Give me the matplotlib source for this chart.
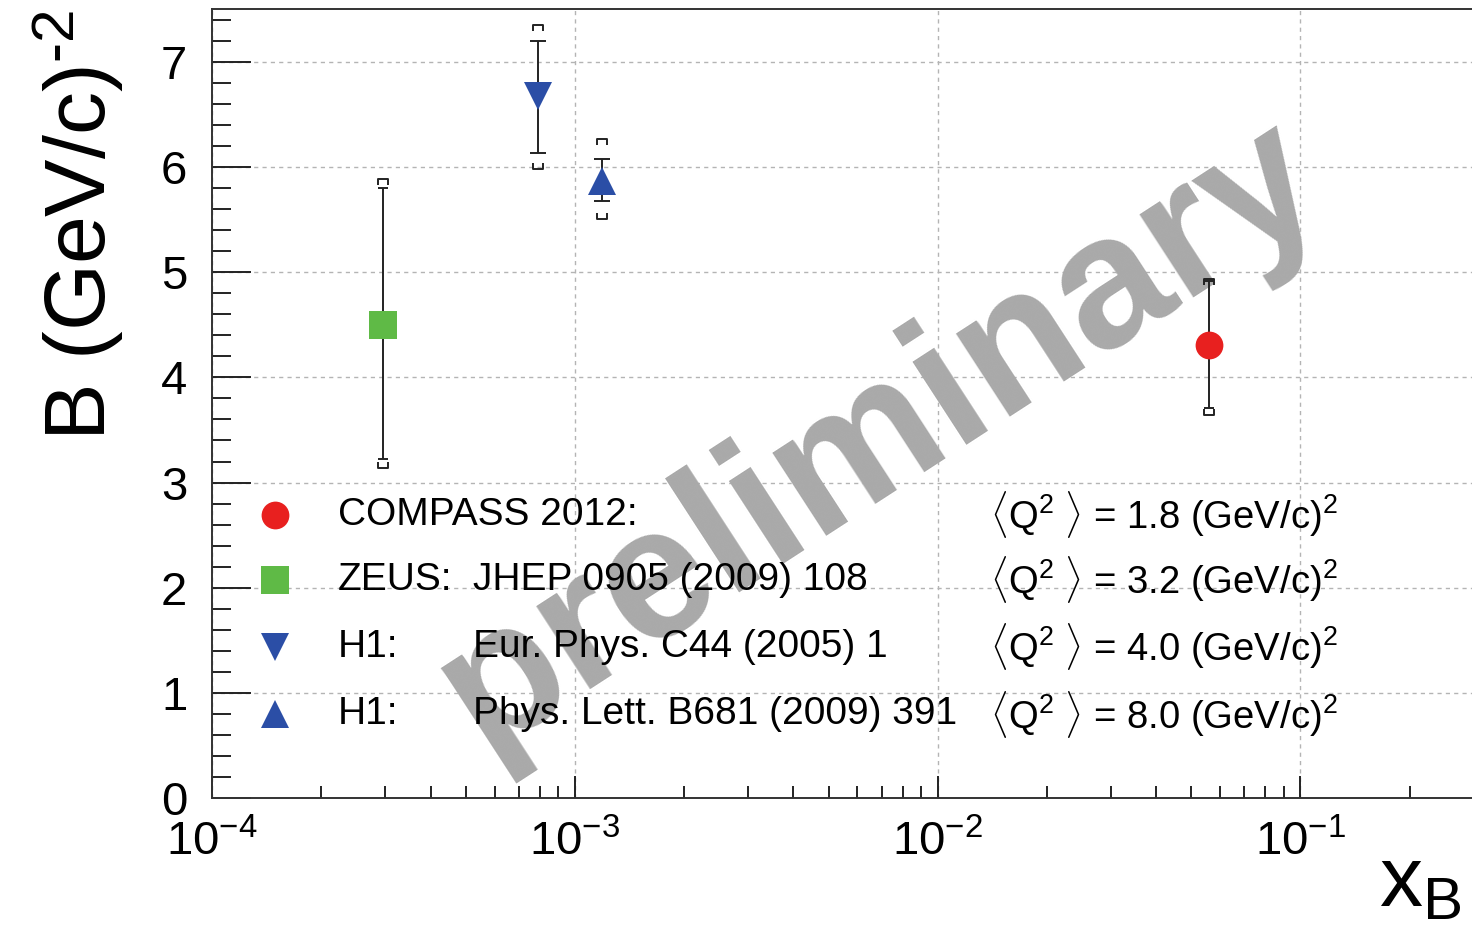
import numpy as np
import matplotlib
matplotlib.use("Agg")
import matplotlib.pyplot as plt
from matplotlib.path import Path
from matplotlib.ticker import MultipleLocator, FixedLocator, LogLocator, NullFormatter

plt.rcParams['font.family'] = ['Liberation Sans', 'DejaVu Sans']
plt.rcParams['mathtext.fontset'] = 'custom'
plt.rcParams['mathtext.rm'] = 'Liberation Sans'
plt.rcParams['mathtext.it'] = 'Liberation Sans:italic'
plt.rcParams['mathtext.bf'] = 'Liberation Sans:bold'

# t-slope B vs x_B for the four measurements
names = ['COMPASS 2012:', 'ZEUS:', 'H1:', 'H1:']
refs = ['', 'JHEP 0905 (2009) 108', 'Eur. Phys. C44 (2005) 1', 'Phys. Lett. B681 (2009) 391']
q2 = ['1.8', '3.2', '4.0', '8.0']
xb = [0.0558, 2.96e-4, 7.9e-4, 1.19e-3]
B = [4.31, 4.50, 6.67, 5.87]
stat_up = [0.61, 1.30, 0.53, 0.20]
stat_dn = [0.60, 1.28, 0.54, 0.19]
tot_up = [0.62, 1.38, 0.68, 0.39]
tot_dn = [0.67, 1.36, 0.69, 0.37]
x_decades = [1e-4, 1e-3, 1e-2, 1e-1]

colors = ['#e8201f', '#5fba46', '#2b4ea6', '#2b4ea6']
markers = ['o', 's', 'v', '^']
capsizes = [3.6, 3.6, 5.8, 5.8]

# open bracket markers for the total uncertainty
top_br = Path([(-0.8, -1), (-0.8, 0), (0.8, 0), (0.8, -1)],
              [Path.MOVETO, Path.LINETO, Path.LINETO, Path.LINETO])
bot_br = Path([(-0.8, 1), (-0.8, 0), (0.8, 0), (0.8, 1)],
              [Path.MOVETO, Path.LINETO, Path.LINETO, Path.LINETO])

fig = plt.figure(figsize=(14.72, 9.33), dpi=100)
W, H = 1472.0, 933.0
ax = fig.add_axes([212.3 / W, (H - 798.3) / H, 1450.8 / W, 789.3 / H])

ax.set_xscale('log')
ax.set_xlim(1e-4, 1)
ax.set_ylim(0, 7.5)

ax.yaxis.set_major_locator(MultipleLocator(1))
ax.yaxis.set_minor_locator(MultipleLocator(0.2))
ax.xaxis.set_major_locator(FixedLocator(x_decades))
ax.xaxis.set_minor_locator(LogLocator(base=10, subs=np.arange(2, 10)))
ax.xaxis.set_minor_formatter(NullFormatter())

ax.tick_params(axis='both', which='both', direction='in', width=1.4, colors='#222222',
               labelcolor='black', labelsize=34)
ax.tick_params(axis='y', which='major', length=28, pad=18)
ax.tick_params(axis='y', which='minor', length=14)
ax.tick_params(axis='x', which='major', length=16, pad=16)
ax.tick_params(axis='x', which='minor', length=8.5)
for s in ax.spines.values():
    s.set_linewidth(1.4)
    s.set_color('#333333')

ax.grid(True, which='major', color='#b4b4b4', linestyle=(0, (3, 3)), linewidth=1.0)
ax.set_axisbelow(True)

ax.text(0.4602, 0.4603, 'preliminary', transform=ax.transAxes, rotation=33,
        rotation_mode='anchor', ha='center', va='center', fontsize=135,
        fontweight='bold', color='#a9a9a9', zorder=0.6)

for i in range(len(xb)):
    ax.errorbar([xb[i]], [B[i]], yerr=[[stat_dn[i]], [stat_up[i]]], fmt='none',
                ecolor='#222222', elinewidth=1.4, capsize=capsizes[i], capthick=1.4, zorder=3)
    ax.plot([xb[i]], [B[i] + tot_up[i]], marker=top_br, markersize=8.6, color='#222222',
            markerfacecolor='none', markeredgewidth=1.4, linestyle='none', zorder=3)
    ax.plot([xb[i]], [B[i] - tot_dn[i]], marker=bot_br, markersize=8.6, color='#222222',
            markerfacecolor='none', markeredgewidth=1.4, linestyle='none', zorder=3)
    ax.plot([xb[i]], [B[i]], marker=markers[i], markersize=20, color=colors[i],
            markeredgewidth=0, linestyle='none', zorder=4)

# legend block drawn by hand, one row per measurement
rows_y = [0.359, 0.2766, 0.1917, 0.1068]
for i in range(len(names)):
    ax.plot([0.0432], [rows_y[i]], marker=markers[i], markersize=20, color=colors[i],
            markeredgewidth=0, transform=ax.transAxes, linestyle='none', zorder=4,
            clip_on=False)
    ax.text(0.0866, rows_y[i], names[i], transform=ax.transAxes, fontsize=28,
            va='center', ha='left', zorder=5)
    ax.text(0.1797, rows_y[i], refs[i], transform=ax.transAxes, fontsize=28,
            va='center', ha='left', zorder=5)
    ax.text(0.536, rows_y[i], r'$\langle$Q$^{2}$ $\rangle$ = ' + q2[i] + ' (GeV/c)$^{2}$',
            transform=ax.transAxes, fontsize=27.5, va='center', ha='left', zorder=5)

fig.text(106 / W, 1 - 10 / H, r'B (GeV/c)$^{\text{-}2}$', rotation=90, rotation_mode='anchor',
         ha='right', va='baseline', fontsize=62)
fig.text(1462 / W, 8 / H, r'x$_{\mathrm{B}}$', ha='right', va='bottom', fontsize=62)

fig.savefig('out.png', dpi=100)
